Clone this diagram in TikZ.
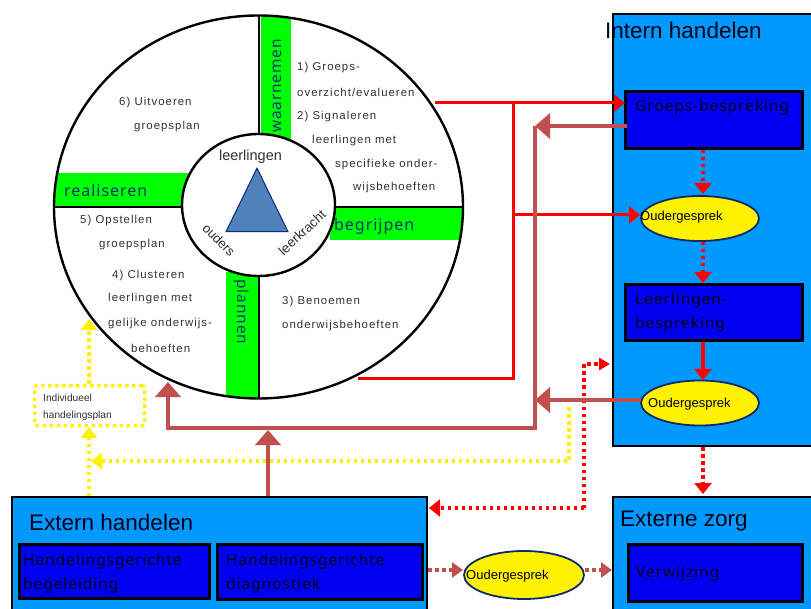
\documentclass[tikz,border=0pt]{standalone}
\usepackage{fontspec}
\setmainfont{Liberation Sans}
\newfontfamily\wide[LetterSpace=6]{Noto Sans}
\newfontfamily\smalltxt[LetterSpace=9]{Liberation Sans}
\usetikzlibrary{arrows.meta,shapes.geometric}
\definecolor{sky}{HTML}{0099FF}
\definecolor{deep}{HTML}{0000F0}
\definecolor{brown}{HTML}{C0504D}
\definecolor{navy}{HTML}{0F2A6B}
\definecolor{txtblue}{HTML}{000018}
\definecolor{teal}{HTML}{003A66}
\definecolor{graytxt}{HTML}{303030}
\tikzset{
  panel/.style={draw=black,line width=2.4pt,fill=sky,inner sep=0,anchor=north west},
  inner box/.style={draw=black,line width=2.6pt,fill=deep,inner sep=0,anchor=north west},
  talk/.style={ellipse,draw=navy,line width=1.8pt,fill=yellow,inner sep=0},
  head/.style={font=\fontsize{22.5}{24}\selectfont,text=txtblue,anchor=west,inner sep=0},
  boxtxt/.style={font=\wide\fontsize{15.5}{24}\selectfont,text=txtblue,anchor=west,inner sep=0,align=left},
  talktxt/.style={font=\fontsize{13}{14}\selectfont,text=txtblue,anchor=west,inner sep=0},
  step txt/.style={font=\smalltxt\fontsize{11.4}{12}\selectfont,text=graytxt,anchor=west,inner sep=0},
  bar txt/.style={font=\wide\fontsize{16}{18}\selectfont,text=teal,inner sep=0},
  redline/.style={draw=red,line width=3pt},
  redtip/.style={-{Triangle[length=11pt,width=17pt]}},
  smalltip/.style={-{Triangle[length=11pt,width=12pt]}},
  reddot/.style={draw=red,line width=3.4pt,dash pattern=on 3.5pt off 3.5pt},
  browntip/.style={-{Triangle[length=15pt,width=25pt]}},
  brownline/.style={draw=brown,line width=4.4pt},
  browndot/.style={draw=brown,line width=3.2pt,dash pattern=on 3.5pt off 3.5pt,-{Triangle[length=11pt,width=15pt]}},
  yeldot/.style={draw=yellow,line width=3.4pt,dash pattern=on 3.5pt off 3.5pt},
  yeltip/.style={-{Triangle[length=11pt,width=16pt]}},
}
\begin{document}
\begin{tikzpicture}[x=1pt,y=-1pt]
\useasboundingbox (0,0) rectangle (811,609);
\clip (0,0) rectangle (811,609);
\fill[white] (0,0) rectangle (811,609);

% wheel
\coordinate (wheelc) at (258.5,207);
\begin{scope}
  \clip (wheelc) ellipse [x radius=204.5pt,y radius=191.5pt];
  \fill[green] (261,10) rectangle (291,140);
  \fill[green] (50,173) rectangle (190,207);
  \fill[green] (330,207) rectangle (470,240);
  \fill[green] (226,272) rectangle (259,400);
  \draw[line width=2.4pt] (259,10) -- (259,400);
  \draw[line width=2.4pt] (50,207) -- (470,207);
\end{scope}
\node[font=\wide\fontsize{15.4}{18}\selectfont,text=teal,rotate=90,inner sep=0] (wn) at (277,86) {waarnemen};
\draw[line width=2.4pt] (wheelc) ellipse [x radius=204.5pt,y radius=191.5pt];
\node[ellipse,draw=black,fill=white,line width=2.4pt,minimum width=153pt,minimum height=142pt,inner sep=0] (hub) at (258.5,205) {};
\node[isosceles triangle,isosceles triangle apex angle=52,shape border rotate=90,draw=navy,line width=1pt,inner sep=0,minimum height=63pt,minimum width=62pt,anchor=apex,fill={rgb,255:red,79;green,129;blue,189}] (tri) at (257,167) {};

\node[font=\fontsize{14.5}{16}\selectfont,text=graytxt,inner sep=0] (leer) at (250.5,156.5) {leerlingen};
\node[font=\fontsize{13}{14}\selectfont,text=graytxt,rotate=-45,inner sep=0] (oud) at (219,240) {ouders};
\node[font=\fontsize{13.4}{14}\selectfont,text=graytxt,rotate=43,inner sep=0] (lk) at (302,232.5) {leerkracht};

\node[bar txt,anchor=west] (rl) at (64,191) {realiseren};
\node[bar txt,anchor=west] (bg) at (334,226) {begrijpen};
\node[font=\wide\fontsize{15.4}{18}\selectfont,text=teal,rotate=-90,inner sep=0] (pl) at (242,312) {plannen};

\node[step txt] (s1a) at (297,68) {1) Groeps-};
\node[step txt] (s1b) at (297,92) {overzicht/evalueren};
\node[step txt] (s2a) at (297,117) {2) Signaleren};
\node[step txt] (s2b) at (312,141) {leerlingen met};
\node[step txt] (s2c) at (335,165) {specifieke onder-};
\node[step txt] (s2d) at (353,188) {wijsbehoeften};
\node[step txt] (s6a) at (119,103) {6) Uitvoeren};
\node[step txt] (s6b) at (134,127) {groepsplan};
\node[step txt] (s5a) at (80,221) {5) Opstellen};
\node[step txt] (s5b) at (99,245) {groepsplan};
\node[step txt] (s4a) at (112,276) {4) Clusteren};
\node[step txt] (s4b) at (108,299) {leerlingen met};
\node[step txt] (s4c) at (108,324) {gelijke onderwijs-};
\node[step txt] (s4d) at (131,348) {behoeften};
\node[step txt] (s3a) at (282,302) {3) Benoemen};
\node[step txt] (s3b) at (282,326) {onderwijsbehoeften};

% panels
\node[panel,minimum width=230pt,minimum height=432pt] (intern) at (612,13) {};
\node[panel,minimum width=230pt,minimum height=140pt] (zorg) at (612,496) {};
\node[panel,minimum width=414.6pt,minimum height=140pt] (extern) at (11,496) {};

\node[inner box,minimum width=177.4pt,minimum height=57.4pt] (groeps) at (624,90) {};
\node[inner box,minimum width=177.4pt,minimum height=56.4pt] (llb) at (624,283) {};
\node[inner box,minimum width=174.4pt,minimum height=57.4pt] (verw) at (627,543) {};
\node[inner box,minimum width=190.4pt,minimum height=54.4pt] (hgb) at (18,543) {};
\node[inner box,minimum width=205.4pt,minimum height=55.4pt] (hgd) at (216,543) {};

\node[talk,minimum width=118pt,minimum height=45pt] (oud1) at (700,218.5) {};
\node[talk,minimum width=118pt,minimum height=45pt] (oud2) at (700,403) {};
\node[talk,minimum width=120pt,minimum height=48pt] (oud3) at (524,575) {};

\node[head] (tintern) at (605,30.5) {Intern handelen};
\node[head] (tzorg) at (620,521) {Externe zorg};
\node[head] (textern) at (29,522) {Extern handelen};
\node[boxtxt] (tgroeps) at (635,107) {Groeps-bespreking};
\node[boxtxt] (tllb) at (635,312) {Leerlingen-\\bespreking};
\node[boxtxt] (tverw) at (636,574) {Verwijzing};
\node[boxtxt] (thgb) at (23,573) {Handelingsgerichte\\begeleiding};
\node[boxtxt] (thgd) at (226,573) {Handelingsgerichte\\diagnostiek};
\node[talktxt] (toud1) at (640,217) {Oudergesprek};
\node[talktxt] (toud2) at (648,404) {Oudergesprek};
\node[talktxt] (toud3) at (466,576) {Oudergesprek};

% individual plan
\node[draw=yellow,line width=3.4pt,dash pattern=on 3.5pt off 3.5pt,rounded corners=2pt,minimum width=110pt,minimum height=40pt,inner sep=0,anchor=north west] (indiv) at (33,384) {};
\node[font=\fontsize{10.2}{17}\selectfont,text=graytxt,anchor=west,inner sep=0,align=left] (tindiv) at (43,407.5) {Individueel\\handelingsplan};

% junction coordinates
\coordinate (r1) at (435,103);
\coordinate (r2) at (513,103);
\coordinate (r3) at (513,215);
\coordinate (r4) at (513,379);
\coordinate (r5) at (358,379);
\coordinate (r6) at (625,103);
\coordinate (r7) at (640,215);
\coordinate (b1) at (627,126);
\coordinate (b2) at (535,126);
\coordinate (b3) at (535,428);
\coordinate (b4) at (168,428);
\coordinate (b5) at (168,382);
\coordinate (b6) at (535,400);
\coordinate (b7) at (641,400);
\coordinate (b8) at (268,496);
\coordinate (b9) at (268,430);
\coordinate (d1) at (703,150);
\coordinate (d2) at (703,194);
\coordinate (d3) at (703,242);
\coordinate (d4) at (703,283);
\coordinate (d5) at (703,342);
\coordinate (d6) at (703,380);
\coordinate (d7) at (703,447);
\coordinate (d8) at (703,494);
\coordinate (e1) at (429,508);
\coordinate (e2) at (584,508);
\coordinate (e3) at (584,364);
\coordinate (e4) at (610,364);
\coordinate (y1) at (569,407);
\coordinate (y2) at (569,461);
\coordinate (y3) at (91,461);
\coordinate (y4) at (89,496);
\coordinate (y5) at (89,427);
\coordinate (y6) at (89,384);
\coordinate (y7) at (89,319);
\coordinate (m1) at (428,570);
\coordinate (m2) at (463,570);
\coordinate (m3) at (585,570);
\coordinate (m4) at (612,570);

% red
\draw[redline,redtip] (r1) -- (r6);
\draw[redline] (r2) -- (r4) -- (r5);
\draw[redline,redtip] (r3) -- (r7);
\draw[reddot,redtip] (d1) -- (d2);
\draw[reddot,redtip] (d3) -- (d4);
\draw[redline,line width=3.4pt,redtip] (d5) -- (d6);
\draw[reddot,redtip] (d7) -- (d8);
\draw[reddot,redtip] (e2) -- (e1);
\draw[reddot,smalltip] (e2) -- (e3) -- (e4);

% yellow
\draw[yeldot,yeltip] (y1) -- (y2) -- (y3);
\draw[yeldot,yeltip] (y4) -- (y5);
\draw[yeldot,yeltip] (y6) -- (y7);

% brown
\draw[brownline,browntip] (b1) -- (b2);
\draw[brownline] (b2) -- (b3) -- (b4) -- (168,395);
\draw[brownline,browntip] (168,400) -- (b5);
\draw[brownline,browntip] (b7) -- (b6);
\draw[brownline,browntip] (b8) -- (b9);
\draw[browndot] (m1) -- (m2);
\draw[browndot] (m3) -- (m4);
\end{tikzpicture}
\end{document}
